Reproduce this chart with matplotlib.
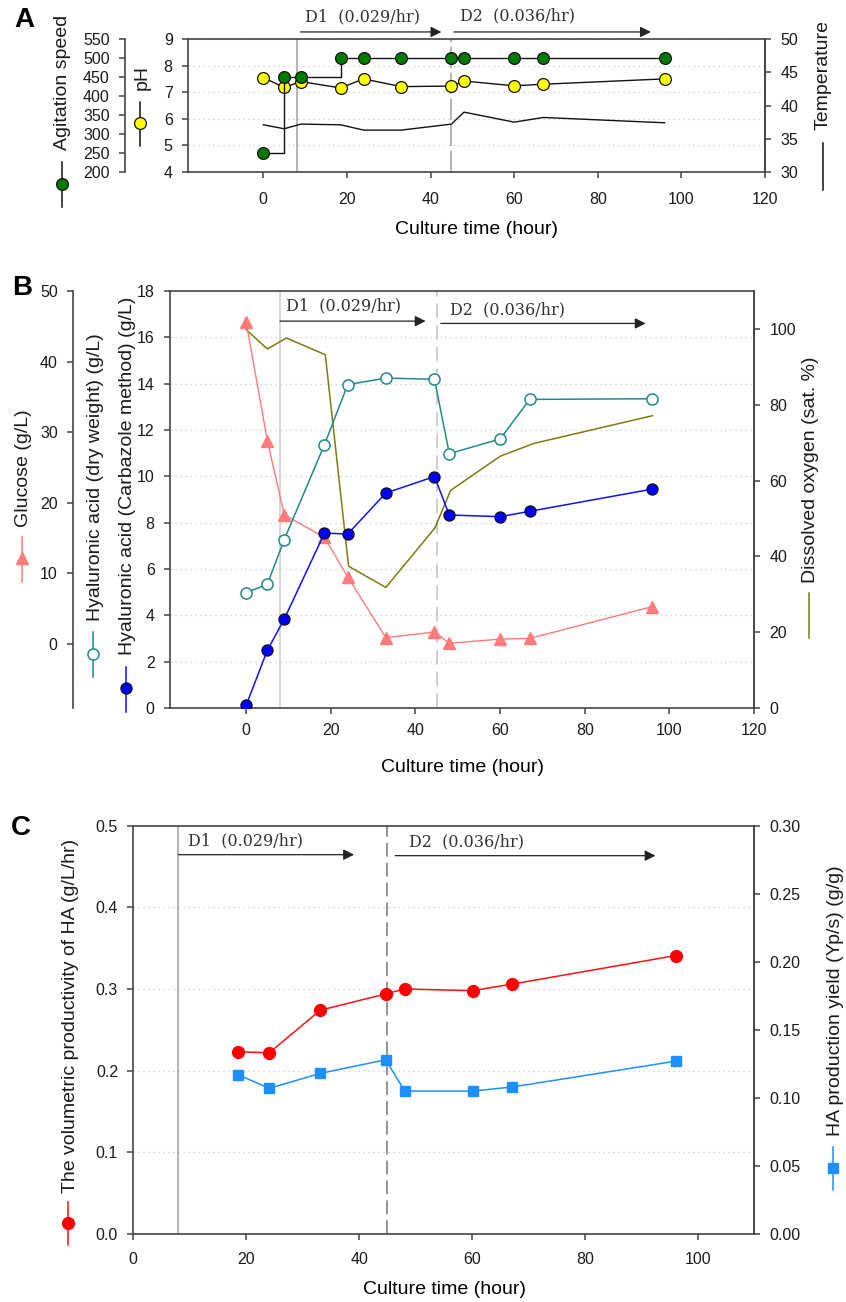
import matplotlib
matplotlib.use("Agg")
import matplotlib.pyplot as plt
from matplotlib.lines import Line2D
from matplotlib.ticker import FormatStrFormatter

W, H = 846, 1302
SPINE = "#444444"
GRID = "#c8c8c8"
SERIF = "DejaVu Serif"

plt.rcParams.update({
    "font.family": "Liberation Sans", "font.size": 11.5,
    "axes.edgecolor": SPINE, "axes.linewidth": 1.2,
    "xtick.color": SPINE, "ytick.color": SPINE,
    "xtick.labelcolor": "#1a1a1a", "ytick.labelcolor": "#1a1a1a",
    "xtick.major.size": 4, "ytick.major.size": 4,
    "xtick.major.width": 1.1, "ytick.major.width": 1.1,
    "ytick.major.pad": 7,
})

# ---- panel A: process conditions
time_a = [0, 5, 9, 18.5, 24, 33, 45, 48, 60, 67, 96]
agitation = [250, 450, 450, 500, 500, 500, 500, 500, 500, 500, 500]
ph = [7.55, 7.18, 7.4, 7.16, 7.5, 7.21, 7.23, 7.42, 7.24, 7.3, 7.5]
temperature = [37.1, 36.5, 37.2, 37.1, 36.3, 36.3, 37.2, 39.0, 37.5, 38.2, 37.4]

# ---- panel B: glucose, HA, dissolved oxygen
time_b = [0, 5, 9, 18.5, 24, 33, 44.5, 48, 60, 67, 96]
glucose = [45.6, 28.8, 18.3, 15.1, 9.5, 0.9, 1.7, 0.1, 0.7, 0.8, 5.3]
ha_dry = [4.98, 5.34, 7.27, 11.37, 13.96, 14.24, 14.19, 10.98, 11.61, 13.32, 13.35]
ha_carbazole = [0.12, 2.49, 3.84, 7.55, 7.51, 9.28, 9.99, 8.33, 8.26, 8.49, 9.45]
do_time = [0, 5, 9.5, 18.7, 24.2, 33, 44.6, 48.3, 60, 68, 96]
dissolved_oxygen = [99.8, 94.7, 97.6, 93.2, 37.4, 31.8, 47.5, 57.4, 66.4, 69.8, 77.1]

# ---- panel C: productivity and yield
time_c = [18.6, 24.1, 33.1, 44.7, 48.1, 60.1, 67.1, 96.1]
productivity = [0.223, 0.222, 0.274, 0.294, 0.300, 0.298, 0.306, 0.341]
yield_ps = [0.117, 0.107, 0.118, 0.128, 0.105, 0.105, 0.108, 0.127]

D1_START, D2_START = 8, 45


def fx(p):
    return p / W


def fy(p):
    return 1 - p / H


def axes_px(l, t, r, b):
    return fig.add_axes([fx(l), fy(b), (r - l) / W, (b - t) / H])


def rlabel(x, y, s, size=14):
    fig.text(fx(x), fy(y), s, rotation=90, ha="center", va="center", fontsize=size, color="#1a1a1a")


def key(x, y0, y1, ym=None, color="k", **mk):
    fig.add_artist(Line2D([fx(x), fx(x)], [fy(y0), fy(y1)], color=color, lw=1.1,
                          transform=fig.transFigure))
    if ym is not None:
        fig.add_artist(Line2D([fx(x)], [fy(ym)], transform=fig.transFigure, linestyle="none", **mk))


def offset_axis(host, frac, lims, ticks):
    tw = host.twinx()
    for s in ["top", "bottom", "right"]:
        tw.spines[s].set_visible(False)
    tw.spines["left"].set_visible(True)
    tw.spines["left"].set_position(("axes", frac))
    tw.yaxis.set_ticks_position("left")
    tw.set_ylim(*lims)
    tw.set_yticks(ticks)
    return tw


def right_axis(host, lims, ticks):
    tw = host.twinx()
    for s in ["top", "bottom", "left"]:
        tw.spines[s].set_visible(False)
    tw.set_ylim(*lims)
    tw.set_yticks(ticks)
    return tw


def dilution_arrows(ax, arrows, ycoords="data"):
    for x0, x1, ya, tx, ty, txt in arrows:
        ax.annotate("", xy=(x1, ya), xytext=(x0, ya), xycoords=("data", ycoords),
                    textcoords=("data", ycoords), annotation_clip=False,
                    arrowprops=dict(arrowstyle="-|>", color="#222222", lw=0.9,
                                    mutation_scale=16, shrinkA=0, shrinkB=0))
        ax.annotate(txt, xy=(tx, ty), xycoords=("data", ycoords), ha="left", va="center",
                    fontsize=11.5, family=SERIF, color="#333333", annotation_clip=False)


def grid_y(ax):
    ax.yaxis.grid(True, linestyle=(0, (1, 3)), color=GRID, lw=0.9)
    ax.set_axisbelow(True)


fig = plt.figure(figsize=(W / 100, H / 100), dpi=100)
fig.patch.set_facecolor("white")

# ================= A =================
axA = axes_px(188, 39, 765, 172)
axA.set_xlim(-18, 120)
axA.set_ylim(4, 9)
axA.set_xticks(range(0, 121, 20))
axA.set_yticks(range(4, 10))
axA.tick_params(axis="x", pad=10.5)
grid_y(axA)
axA.axvline(D1_START, color="#a0a0a0", lw=1.1)
axA.axvline(D2_START, color="#a0a0a0", lw=1.1, linestyle=(0, (14, 3)))
axA.plot(time_a, ph, color="#111111", lw=1, marker="o", ms=8.5, mfc="#ffff00",
         mec="#111111", mew=0.9, zorder=3)

axAg = offset_axis(axA, (125 - 188) / (765 - 188), (200, 550), range(200, 551, 50))
axAg.plot(time_a, agitation, color="#111111", lw=1, drawstyle="steps-post", zorder=3)
axAg.plot(time_a, agitation, linestyle="none", marker="o", ms=8.5, mfc="#007a00",
          mec="#111111", mew=0.9, zorder=4)

axT = right_axis(axA, (30, 50), range(30, 51, 5))
axT.plot(time_a, temperature, color="#111111", lw=1)

dilution_arrows(axA, [(8.9, 42.6, 1.053, 10.0, 1.165, "D1  (0.029/hr)"),
                      (45.6, 92.7, 1.053, 47.1, 1.172, "D2  (0.036/hr)")], ycoords="axes fraction")

fig.text(fx(476.5), fy(230), "Culture time (hour)", ha="center", va="center", fontsize=14)
rlabel(62.5, 82, "Agitation speed")
rlabel(142, 77, "pH")
rlabel(823, 75, "Temperature")
key(62, 162, 207, 183.7, color="#111111", marker="o", ms=8.5, mfc="#007a00", mec="#111111", mew=0.9)
key(140, 102, 146, 123, color="#111111", marker="o", ms=8.5, mfc="#ffff00", mec="#111111", mew=0.9)
key(823, 143, 190, color="#111111")
fig.text(fx(24), fy(20), "A", ha="center", va="center", fontsize=20, weight="bold")

# ================= B =================
axB = axes_px(170, 291, 754, 708)
axB.set_xlim(-18, 120)
axB.set_ylim(0, 18)
axB.set_xticks(range(0, 121, 20))
axB.set_yticks(range(0, 19, 2))
axB.tick_params(axis="x", pad=7)
grid_y(axB)
axB.axvline(D1_START, color="#cccccc", lw=1.1)
axB.axvline(D2_START, color="#cccccc", lw=1.3, linestyle=(0, (8, 4)))

axDO = right_axis(axB, (0, 110), range(0, 101, 20))
axDO.plot(do_time, dissolved_oxygen, color="#7d7a12", lw=1.1)

axGl = offset_axis(axB, (73 - 170) / (754 - 170), (-9.06, 50), range(0, 51, 10))
axGl.plot(time_b, glucose, color="#ff7b7b", lw=1, marker="^", ms=8, mfc="#ff7b7b",
          mec="#ff7b7b")

axHA = axB.twinx()
axHA.set_ylim(0, 18)
axHA.axis("off")
axHA.plot(time_b, ha_dry, color="#1f8a8a", lw=1.1, marker="o", ms=8, mfc="white",
          mec="#1f8a8a", mew=1.1)
axHA.plot(time_b, ha_carbazole, color="#1010ff", lw=1.1, marker="o", ms=8, mfc="#0000ff",
          mec="#111111", mew=0.9)

dilution_arrows(axHA, [(8, 42.4, 16.7, 9.3, 17.35, "D1  (0.029/hr)"),
                       (46, 94.4, 16.6, 48.1, 17.2, "D2  (0.036/hr)")])

fig.text(fx(462), fy(768), "Culture time (hour)", ha="center", va="center", fontsize=14)
rlabel(24, 468, "Glucose (g/L)")
rlabel(95, 477, "Hyaluronic acid (dry weight) (g/L)")
rlabel(127, 476, "Hyaluronic acid (Carbazole method) (g/L)")
rlabel(810, 470, "Dissolved oxygen (sat. %)")
key(22, 537, 582, 558, color="#ff7b7b", marker="^", ms=8, mfc="#ff7b7b", mec="#ff7b7b")
key(93, 632, 677, 654, color="#1f8a8a", marker="o", ms=8, mfc="white", mec="#1f8a8a", mew=1.1)
key(126, 667, 712, 688, color="#1010ff", marker="o", ms=8, mfc="#0000ff", mec="#111111", mew=0.9)
key(809, 593, 638, color="#7d7a12")
fig.text(fx(22), fy(288), "B", ha="center", va="center", fontsize=20, weight="bold")

# ================= C =================
axC = axes_px(133.3, 825.7, 754.3, 1234)
axC.set_xlim(0, 110)
axC.set_ylim(0, 0.5)
axC.set_xticks(range(0, 101, 20))
axC.set_yticks([0, 0.1, 0.2, 0.3, 0.4, 0.5])
axC.yaxis.set_major_formatter(FormatStrFormatter("%.1f"))
axC.tick_params(axis="x", pad=9)
grid_y(axC)
axC.axvline(D1_START, color="#a8a8a8", lw=1.2)
axC.axvline(D2_START, color="#777777", lw=1.1, linestyle=(0, (9, 4)))
axC.plot(time_c, productivity, color="#ff1010", lw=1.1, marker="o", ms=8.5,
         mfc="#ff0000", mec="#ff0000")

axY = right_axis(axC, (0, 0.30), [0, 0.05, 0.10, 0.15, 0.20, 0.25, 0.30])
axY.yaxis.set_major_formatter(FormatStrFormatter("%.2f"))
axY.plot(time_c, yield_ps, color="#1e8fff", lw=1.1, marker="s", ms=7.5,
         mfc="#1e8fff", mec="#1e8fff")

dilution_arrows(axC, [(8, 39.1, 0.4645, 9.7, 0.4816, "D1  (0.029/hr)"),
                      (46.4, 92.5, 0.4633, 48.9, 0.480, "D2  (0.036/hr)")])

fig.text(fx(444), fy(1290), "Culture time (hour)", ha="center", va="center", fontsize=14)
rlabel(71, 1016, "The volumetric productivity of HA (g/L/hr)")
rlabel(835, 1001, "HA production yield (Yp/s) (g/g)")
key(68, 1202, 1245, 1222.7, color="#ff1010", marker="o", ms=8.5, mfc="#ff0000", mec="#ff0000")
key(832.7, 1147, 1190, 1168, color="#1e8fff", marker="s", ms=7.5, mfc="#1e8fff", mec="#1e8fff")
fig.text(fx(21), fy(828), "C", ha="center", va="center", fontsize=20, weight="bold")

fig.savefig("out.png", dpi=100)
